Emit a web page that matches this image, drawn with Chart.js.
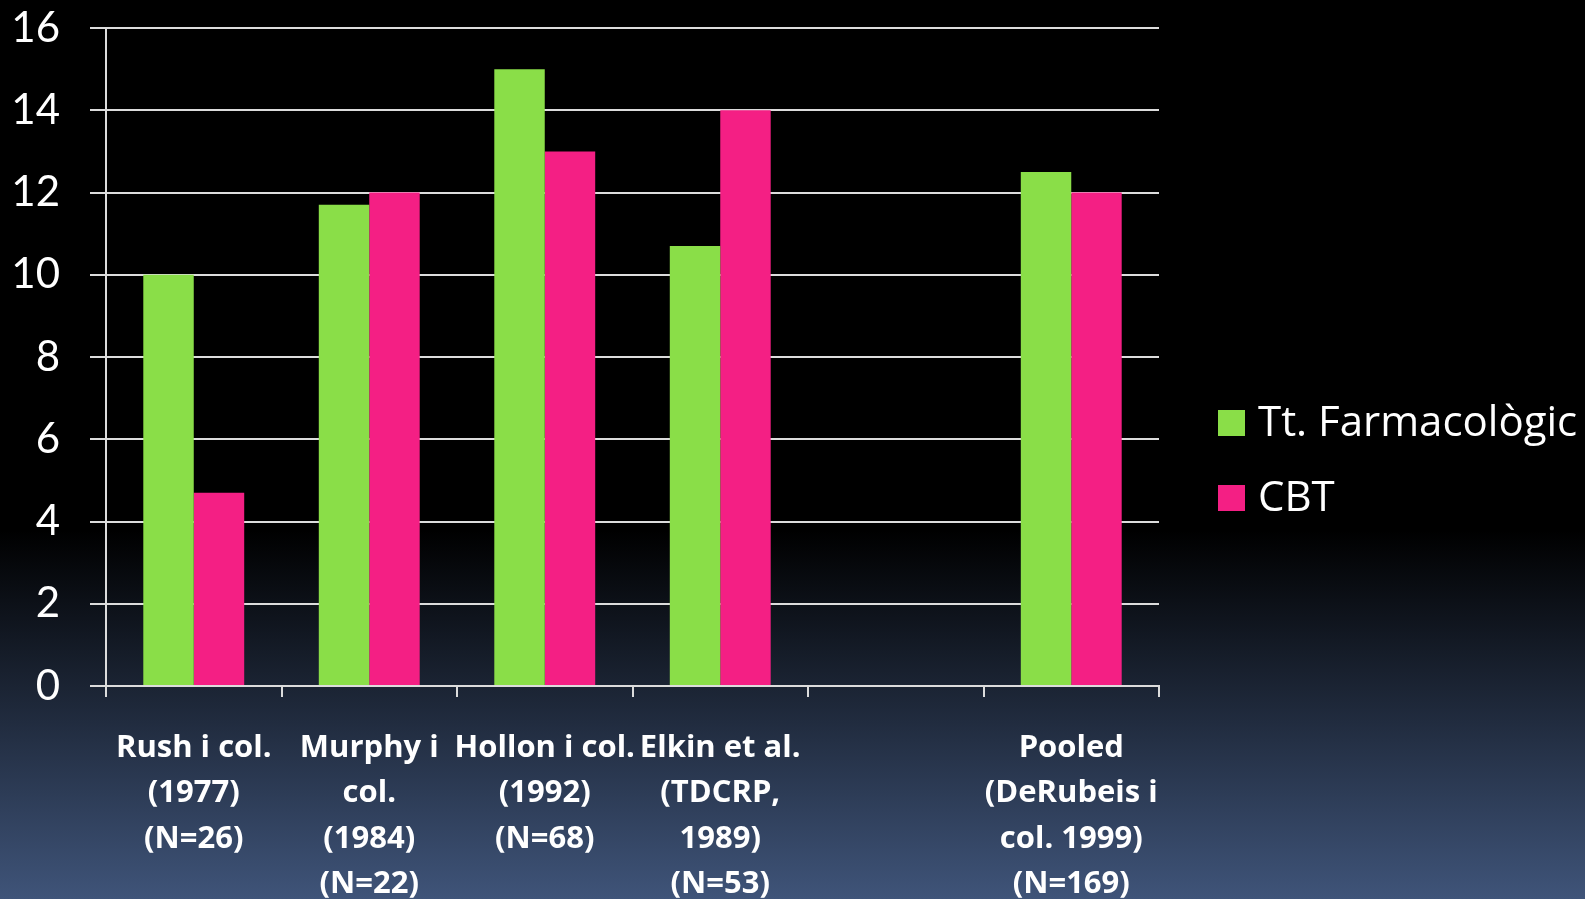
<!DOCTYPE html>
<html>
<head>
<meta charset="utf-8">
<title>Tt. Farmacològic vs CBT</title>
<script src="https://cdn.jsdelivr.net/npm/chart.js@4.4.1/dist/chart.umd.min.js"></script>
<style>
  html, body { margin: 0; padding: 0; }
  body {
    width: 1585px; height: 899px; overflow: hidden;
    background: linear-gradient(to bottom, #000000 0%, #000000 59%, #3f5479 100%);
  }
  #wrap { position: relative; width: 1585px; height: 899px; }
  canvas { display: block; }
</style>
</head>
<body>
<div id="wrap"><canvas id="chart" width="1585" height="899"></canvas></div>
<script>
// Studies on the x axis (multi-line labels); the fifth slot is left empty.
const categories = [
  ["Rush i col.", "(1977)", "(N=26)"],
  ["Murphy i", "col.", "(1984)", "(N=22)"],
  ["Hollon i col.", "(1992)", "(N=68)"],
  ["Elkin et al.", "(TDCRP,", "1989)", "(N=53)"],
  [""],
  ["Pooled", "(DeRubeis i", "col. 1999)", "(N=169)"]
];

const seriesNames = ["Tt. Farmacològic", "CBT"];
const farmacologicValues = [10, 11.7, 15, 10.7, null, 12.5];
const cbtValues = [4.7, 12, 13, 14, null, 12];

const yTicks = [0, 2, 4, 6, 8, 10, 12, 14, 16];

const GREEN = "#8ade48";
const PINK = "#f41f84";
const LINE = "#dcdcdc";

// Legend drawn beside the plot, to the right of the chart area.
const sideLegend = {
  id: "sideLegend",
  afterDraw(chart) {
    const ctx = chart.ctx;
    const area = chart.chartArea;
    const mid = (area.top + area.bottom) / 2;
    const x = area.right + 59;
    ctx.save();
    ctx.font = "42px 'Open Sans'";
    ctx.textBaseline = "middle";
    ctx.textAlign = "left";
    chart.data.datasets.forEach((ds, i) => {
      const cy = mid + 66 + i * 75;
      ctx.fillStyle = ds.backgroundColor;
      ctx.fillRect(x, cy - 13, 27, 26);
      ctx.fillStyle = "#ffffff";
      ctx.fillText(ds.label, x + 40, cy + 1);
    });
    ctx.restore();
  }
};

new Chart(document.getElementById("chart"), {
  type: "bar",
  data: {
    labels: categories,
    datasets: [
      { label: seriesNames[0], data: farmacologicValues, backgroundColor: GREEN },
      { label: seriesNames[1], data: cbtValues, backgroundColor: PINK }
    ]
  },
  options: {
    responsive: false,
    animation: false,
    devicePixelRatio: 1,
    layout: { padding: { top: 28, right: 426, bottom: 0, left: 0 } },
    datasets: { bar: { categoryPercentage: 0.575, barPercentage: 1.0, borderWidth: 0 } },
    plugins: {
      legend: { display: false },
      tooltip: { enabled: false }
    },
    scales: {
      x: {
        offset: true,
        grid: {
          offset: true,
          drawOnChartArea: false,
          drawTicks: true,
          tickLength: 11,
          color: LINE,
          lineWidth: 2
        },
        border: { display: true, color: LINE, width: 2 },
        ticks: {
          color: "#ffffff",
          font: { family: "'Open Sans'", size: 31, weight: "bold", lineHeight: 1.47 },
          padding: 28,
          maxRotation: 0,
          autoSkip: false
        },
        afterFit(scale) {
          scale.height = 213;
          scale.paddingLeft = 0;
          scale.paddingRight = 0;
        }
      },
      y: {
        min: 0,
        max: 16,
        afterBuildTicks(scale) { scale.ticks = yTicks.map(v => ({ value: v })); },
        grid: {
          color: LINE,
          lineWidth: 2,
          drawTicks: true,
          tickLength: 16
        },
        border: { display: true, color: LINE, width: 2 },
        ticks: {
          color: "#ffffff",
          font: { family: "Lato", size: 42 },
          padding: 30
        },
        afterFit(scale) {
          scale.width = 106;
          scale.paddingTop = 0;
          scale.paddingBottom = 0;
        }
      }
    }
  },
  plugins: [sideLegend]
});
</script>
</body>
</html>
